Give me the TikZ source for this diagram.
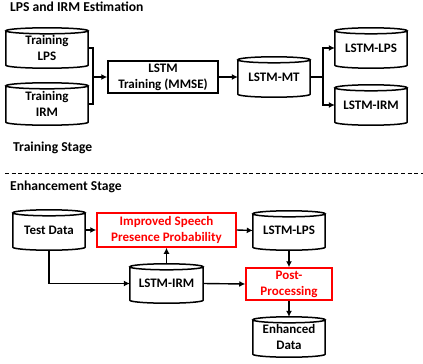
\documentclass[tikz,border=0pt]{standalone}
\usepackage{fontspec}
\setmainfont{Carlito}
\usetikzlibrary{arrows.meta,calc}
\definecolor{pred}{RGB}{255,0,0}
\tikzset{
  txt/.style={font=\bfseries\fontsize{13pt}{16pt}\selectfont, align=center, inner sep=0pt},
  blk/.style={txt, draw=none, minimum width=#1},
  cylline/.style={line width=1.5pt},
  boxline/.style={txt, draw, line width=1.5pt, minimum width=#1},
  redbox/.style={txt, draw=pred, text=pred, line width=1.5pt, minimum width=#1},
  conn/.style={line width=1.4pt},
  arr/.style={conn, -{Latex[length=6pt,width=6pt]}},
  ttl/.style={font=\bfseries\fontsize{13.6pt}{16pt}\selectfont, anchor=west, inner sep=0pt},
}
\newcommand\cylout[1]{%
  \draw[cylline] let \p1=(#1.north west), \p2=(#1.south east), \n1={(\x2-\x1)/2} in
   (\x1,\y1-3pt) -- (\x1,\y2+3pt) arc[start angle=180,end angle=360,x radius=\n1,y radius=3pt] -- (\x2,\y1-3pt)
   ({(\x1+\x2)/2},\y1-3pt) ellipse[x radius=\n1, y radius=3pt];}
\begin{document}
\begin{tikzpicture}[x=1pt,y=-1pt]
\useasboundingbox (0,0) rectangle (423,364);
% titles
\node[ttl] (t1) at (10,7) {LPS and IRM Estimation};
\node[ttl] (t2) at (13,148) {Training Stage};
\node[ttl] (t3) at (10,187) {Enhancement Stage};
\coordinate (dl) at (5,173);
\coordinate (dr) at (423,173);
\draw[line width=1pt, dash pattern=on 4pt off 2.6pt] (dl) -- (dr);
% training stage
\node[blk=82, minimum height=40] (tlps) at (47,48) {Training\\LPS};
\node[blk=82, minimum height=42] (tirm) at (47,104) {Training\\IRM};
\node[boxline=110, minimum height=32] (train) at (163,77) {LSTM\\Training (MMSE)};
\node[blk=72, minimum height=40] (mt) at (274,77) {LSTM-MT};
\node[blk=72, minimum height=40] (llps) at (371,48) {LSTM-LPS};
\node[blk=72, minimum height=40] (lirm) at (371,105) {LSTM-IRM};
\cylout{tlps}\cylout{tirm}\cylout{mt}\cylout{llps}\cylout{lirm}
\coordinate (j1) at (93,77);
\coordinate (j2) at (323,77);
\draw[conn] (tlps.east) -| (j1);
\draw[conn] (tirm.east) -| (j1);
\draw[arr] (j1) -- (train.west);
\draw[arr] (train.east) -- (mt.west);
\draw[conn] (mt.east) -- (j2);
\draw[arr] (j2) |- (llps.west);
\draw[arr] (j2) |- (lirm.west);
% enhancement stage
\node[blk=72, minimum height=40] (test) at (49,230) {Test Data};
\node[redbox=139, minimum height=34] (ispp) at (166.5,230) {Improved Speech\\Presence Probability};
\node[blk=72, minimum height=39] (elps) at (289,230.5) {LSTM-LPS};
\node[redbox=86, minimum height=32] (pp) at (289,284) {Post-\\Processing};
\node[blk=73, minimum height=39] (eirm) at (166.5,283.5) {LSTM-IRM};
\node[blk=72, minimum height=40] (enh) at (289,337) {Enhanced\\Data};
\cylout{test}\cylout{elps}\cylout{eirm}\cylout{enh}
\draw[arr] (test.east) -- (ispp.west);
\draw[arr] (ispp.east) -- (elps.west);
\draw[arr] (eirm.north) -- (ispp.south);
\draw[arr] (test.south) |- (eirm.west);
\draw[arr] (eirm.east) -- (pp.west);
\draw[arr] (elps.south) -- (pp.north);
\draw[arr] (pp.south) -- (enh.north);
\end{tikzpicture}
\end{document}
